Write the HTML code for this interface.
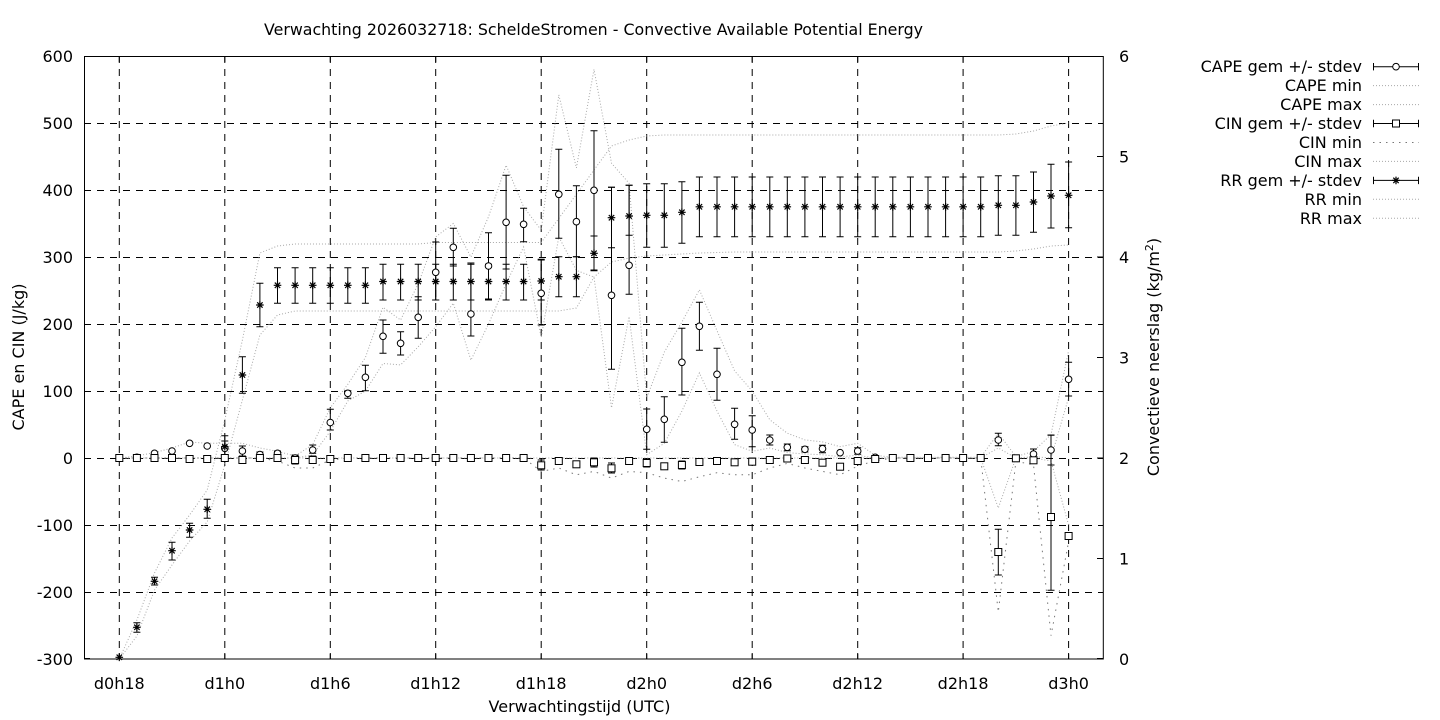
<!DOCTYPE html>
<html><head><meta charset="utf-8"><style>html,body{margin:0;padding:0;background:#fff}svg{display:block}text{font-family:"DejaVu Sans","Liberation Sans",sans-serif;font-size:16px;fill:#000}</style></head>
<body>
<svg width="1440" height="720" viewBox="0 0 1440 720" xmlns="http://www.w3.org/2000/svg">
<defs>
<circle id="c" cx="0" cy="0" r="3.3" fill="#fff" stroke="#000" stroke-width="1"/>
<rect id="q" x="-3.5" y="-3.5" width="7" height="7" fill="#fff" stroke="#000" stroke-width="1"/>
<path id="s" d="M-3.8 0h7.6M0-3.8v7.6M-2.7-2.7l5.4 5.4M-2.7 2.7l5.4-5.4" stroke="#000" stroke-width="1.2" fill="none"/>
</defs>
<rect width="1440" height="720" fill="#fff"/>
<text x="593.5" y="35" text-anchor="middle" textLength="659" lengthAdjust="spacingAndGlyphs">Verwachting 2026032718: ScheldeStromen - Convective Available Potential Energy</text>

<!-- grid -->
<g stroke="#000" stroke-width="1" stroke-dasharray="7,6" fill="none">
<path d="M119.3 56V659M224.8 56V659M330.3 56V659M435.7 56V659M541.2 56V659M646.7 56V659M752.2 56V659M857.7 56V659M963.1 56V659M1068.6 56V659"/>
<path d="M84 123.5H1103M84 190.5H1103M84 257.5H1103M84 324.5H1103M84 391.5H1103M84 458.5H1103M84 525.5H1103M84 592.5H1103"/>
</g>
<!-- ticks -->
<g stroke="#000" stroke-width="1" fill="none">
<path d="M84 56.5h6M84 123.5h6M84 190.5h6M84 257.5h6M84 324.5h6M84 391.5h6M84 458.5h6M84 525.5h6M84 592.5h6M84 658.5h6"/>
<path d="M1103 56.5h-6M1103 156.5h-6M1103 257h-6M1103 357.5h-6M1103 458h-6M1103 558.5h-6M1103 658.5h-6"/>
<path d="M119.3 659v-6M224.8 659v-6M330.3 659v-6M435.7 659v-6M541.2 659v-6M646.7 659v-6M752.2 659v-6M857.7 659v-6M963.1 659v-6M1068.6 659v-6"/>
<path d="M119.3 56v6M224.8 56v6M330.3 56v6M435.7 56v6M541.2 56v6M646.7 56v6M752.2 56v6M857.7 56v6M963.1 56v6M1068.6 56v6"/>
</g>

<!-- tick labels -->
<g text-anchor="end">
<text x="73" y="62">600</text><text x="73" y="129">500</text><text x="73" y="196">400</text><text x="73" y="263">300</text><text x="73" y="330">200</text><text x="73" y="397">100</text><text x="73" y="464">0</text><text x="73" y="531">-100</text><text x="73" y="598">-200</text><text x="73" y="665">-300</text>
</g>
<g text-anchor="start">
<text x="1119" y="62">6</text><text x="1119" y="162.5">5</text><text x="1119" y="263">4</text><text x="1119" y="363.5">3</text><text x="1119" y="464">2</text><text x="1119" y="564.5">1</text><text x="1119" y="665">0</text>
</g>
<g text-anchor="middle">
<text x="119.3" y="689">d0h18</text><text x="224.8" y="689">d1h0</text><text x="330.3" y="689">d1h6</text><text x="435.7" y="689">d1h12</text><text x="541.2" y="689">d1h18</text><text x="646.7" y="689">d2h0</text><text x="752.2" y="689">d2h6</text><text x="857.7" y="689">d2h12</text><text x="963.1" y="689">d2h18</text><text x="1068.6" y="689">d3h0</text>
<text x="579.5" y="712">Verwachtingstijd (UTC)</text>
<text transform="translate(24,357) rotate(-90)">CAPE en CIN (J/kg)</text>
<text transform="translate(1159,357) rotate(-90)">Convectieve neerslag (kg/m<tspan dy="-6" font-size="11">2</tspan><tspan dy="6">)</tspan></text>
</g>

<!-- gray min/max lines -->
<g fill="none" stroke="#a8a8a8" stroke-width="1" stroke-dasharray="1,2">
<polyline points="119.3,458 136.9,456 154.5,452.6 172,448 189.6,442 207.2,443.3 224.8,443.3 242.4,443.3 259.9,448 277.5,451.3 295.1,456 312.7,444.6 330.3,407.8 347.8,384.3 365.4,357.5 383,307.3 400.6,320 418.2,283.8 435.7,236.9 453.3,223.5 470.9,257 488.5,216.8 506.1,165.2 523.6,206.8 541.2,230.2 558.8,94.9 576.4,167.9 594,69.4 611.5,163.2 629.1,183.3 646.7,397.7 664.3,352.1 681.9,322 699.4,289.8 717,330.7 734.6,370.9 752.2,391 769.8,419.8 787.3,433.2 804.9,439.9 822.5,441.9 840.1,446.6 857.7,443.3 875.2,455.3 892.8,457.3 910.4,457.3 928,457.3 945.6,457.3 963.1,457.3 980.7,457.3 998.3,433.2 1015.9,456.7 1033.5,451.3 1051,434.6 1068.6,350.8"/>
<polyline points="119.3,458 295.1,458 312.7,455 330.3,431.2 347.8,401 365.4,391 383,363.5 400.6,364.9 418.2,346.8 435.7,326.7 453.3,303.2 470.9,360.2 488.5,324 506.1,283.8 523.6,247 541.2,337.4 558.8,236.9 576.4,270.4 594,277.1 611.5,407.8 629.1,316.6 646.7,454.7 664.3,443.3 681.9,411.1 699.4,372.9 717,411.1 734.6,444.6 752.2,451.3 769.8,448 787.3,452.6 804.9,454 822.5,454.7 840.1,456.7 857.7,455.3 875.2,458 980.7,458 998.3,448 1015.9,458 1033.5,456.7 1051,458 1068.6,397.7"/>
<polyline points="119.3,458 980.7,458 998.3,508 1015.9,458 1033.5,458 1051,461 1068.6,525"/>
<polyline points="119.3,659 136.9,636 154.5,590 172,565 189.6,541 207.2,522 224.8,465 242.4,400 259.9,335 277.5,315 295.1,311 558.8,311 576.4,308 594,277 611.5,262 629.1,258 646.7,256 664.3,255 681.9,254 699.4,253 717,252.5 734.6,252 998.3,252 1015.9,251 1033.5,249 1051,246 1068.6,245"/>
<polyline points="119.3,659 136.9,620 154.5,573 172,538 189.6,515 207.2,490 224.8,420 242.4,340 259.9,253 277.5,246 295.1,244 418.2,244 435.7,242.5 541.2,242.5 558.8,218.4 576.4,194.3 594,170 611.5,146 629.1,140 646.7,136 664.3,135 998.3,135 1015.9,134 1033.5,131 1051,126 1068.6,123"/>
</g>
<polyline fill="none" stroke="#777" stroke-width="1" stroke-dasharray="1.5,5" points="119.3,458 259.9,458 277.5,461 295.1,468 312.7,468 330.3,460 347.8,458 523.6,458 541.2,471.4 558.8,468 576.4,474.8 594,471.4 611.5,478.1 629.1,471.4 646.7,472.7 664.3,478.1 681.9,481.5 699.4,476.8 717,472.7 734.6,474.8 752.2,474.8 769.8,468 787.3,463.4 804.9,468 822.5,471.4 840.1,474.8 857.7,466 875.2,460.7 892.8,458 980.7,458 998.3,612.1 1015.9,461.4 1033.5,464.7 1051,635.6 1068.6,541.8"/>

<!-- error bars -->
<g stroke="#000" stroke-width="1" fill="none">
<path d="M224.8 441V455m-3.5 0h7M221.3 441h7M242.4 446V456m-3.5 0h7M238.9 446h7M259.9 452V457m-3.5 0h7M256.4 452h7M277.5 451V456m-3.5 0h7M274 451h7M295.1 455V461m-3.5 0h7M291.6 455h7M312.7 445V453.3m-3.5 0h7M309.2 445h7M330.3 409.3V430m-3.5 0h7M326.8 409.3h7M347.8 390.7V398.3m-3.5 0h7M344.3 390.7h7M365.4 365.3V390.7m-3.5 0h7M361.9 365.3h7M383 320V353.3m-3.5 0h7M379.5 320h7M400.6 331.7V355m-3.5 0h7M397.1 331.7h7M418.2 296.7V338.3m-3.5 0h7M414.7 296.7h7M435.7 242V300m-3.5 0h7M432.2 242h7M453.3 228.3V266m-3.5 0h7M449.8 228.3h7M470.9 263V336m-3.5 0h7M467.4 263h7M488.5 232.7V299m-3.5 0h7M485 232.7h7M506.1 175.3V269m-3.5 0h7M502.6 175.3h7M523.6 208.3V241.7m-3.5 0h7M520.1 208.3h7M541.2 259.3V325m-3.5 0h7M537.7 259.3h7M558.8 149.3V238.3m-3.5 0h7M555.3 149.3h7M576.4 185.7V256.7m-3.5 0h7M572.9 185.7h7M594 130.7V270m-3.5 0h7M590.5 130.7h7M611.5 187.3V369.3m-3.5 0h7M608 187.3h7M629.1 185.3V294.3m-3.5 0h7M625.6 185.3h7M646.7 409V449.3m-3.5 0h7M643.2 409h7M664.3 396.7V442.3m-3.5 0h7M660.8 396.7h7M681.9 328.3V395m-3.5 0h7M678.4 328.3h7M699.4 302.3V350.3m-3.5 0h7M695.9 302.3h7M717 348.3V400.3m-3.5 0h7M713.5 348.3h7M734.6 408.3V439.3m-3.5 0h7M731.1 408.3h7M752.2 415.7V446.7m-3.5 0h7M748.7 415.7h7M769.8 435V445m-3.5 0h7M766.3 435h7M787.3 444V450.7m-3.5 0h7M783.8 444h7M804.9 446.7V452m-3.5 0h7M801.4 446.7h7M822.5 445.3V452.7m-3.5 0h7M819 445.3h7M857.7 447.7V454.3m-3.5 0h7M854.2 447.7h7M998.3 433.3V445.7m-3.5 0h7M994.8 433.3h7M1033.5 449V458m-3.5 0h7M1030 449h7M1051 435V465m-3.5 0h7M1047.5 435h7M1068.6 362.3V396m-3.5 0h7M1065.1 362.3h7"/>
<path d="M295.1 456V464m-3.5 0h7M291.6 456h7M312.7 456V463m-3.5 0h7M309.2 456h7M541.2 460V470m-3.5 0h7M537.7 460h7M594 458V467m-3.5 0h7M590.5 458h7M611.5 463V473m-3.5 0h7M608 463h7M646.7 459V467m-3.5 0h7M643.2 459h7M681.9 461V469m-3.5 0h7M678.4 461h7M699.4 459V465m-3.5 0h7M695.9 459h7M734.6 459V465m-3.5 0h7M731.1 459h7M752.2 458V465m-3.5 0h7M748.7 458h7M998.3 529.3V575m-3.5 0h7M994.8 529.3h7M1051 435.3V590.3m-3.5 0h7M1047.5 435.3h7M1068.6 533V539m-3.5 0h7M1065.1 533h7"/>
<path d="M136.9 622.7V632.3m-3.5 0h7M133.4 622.7h7M154.5 577.3V585m-3.5 0h7M151 577.3h7M172 542.3V560m-3.5 0h7M168.5 542.3h7M189.6 523.3V537.3m-3.5 0h7M186.1 523.3h7M207.2 499.3V518.3m-3.5 0h7M203.7 499.3h7M224.8 435.7V458m-3.5 0h7M221.3 435.7h7M242.4 356.7V393.3m-3.5 0h7M238.9 356.7h7M259.9 283.3V326.7m-3.5 0h7M256.4 283.3h7
M277.5 267.7V303.3m-3.5 0h7M274 267.7h7M295.1 267.7V303.3m-3.5 0h7M291.6 267.7h7M312.7 267.7V303.3m-3.5 0h7M309.2 267.7h7M330.3 267.7V303.3m-3.5 0h7M326.8 267.7h7M347.8 267.7V303.3m-3.5 0h7M344.3 267.7h7M365.4 267.7V303.3m-3.5 0h7M361.9 267.7h7
M383 264.3V300m-3.5 0h7M379.5 264.3h7M400.6 264.3V300m-3.5 0h7M397.1 264.3h7M418.2 264.3V300m-3.5 0h7M414.7 264.3h7M435.7 264.3V300m-3.5 0h7M432.2 264.3h7M453.3 264.3V300m-3.5 0h7M449.8 264.3h7M470.9 264.3V300m-3.5 0h7M467.4 264.3h7M488.5 264.3V300m-3.5 0h7M485 264.3h7M506.1 264.3V300m-3.5 0h7M502.6 264.3h7M523.6 264.3V300m-3.5 0h7M520.1 264.3h7
M541.2 260V300m-3.5 0h7M537.7 260h7M558.8 256.7V296.7m-3.5 0h7M555.3 256.7h7M576.4 256.7V296.7m-3.5 0h7M572.9 256.7h7M594 236V270.7m-3.5 0h7M590.5 236h7M611.5 187.3V247.7m-3.5 0h7M608 187.3h7M629.1 185.3V235.3m-3.5 0h7M625.6 185.3h7M646.7 183.7V247.3m-3.5 0h7M643.2 183.7h7M664.3 183.7V247.3m-3.5 0h7M660.8 183.7h7M681.9 181.7V243.3m-3.5 0h7M678.4 181.7h7
M699.4 177V236.7m-3.5 0h7M695.9 177h7M717 177V236.7m-3.5 0h7M713.5 177h7M734.6 177V236.7m-3.5 0h7M731.1 177h7M752.2 177V236.7m-3.5 0h7M748.7 177h7M769.8 177V236.7m-3.5 0h7M766.3 177h7M787.3 177V236.7m-3.5 0h7M783.8 177h7M804.9 177V236.7m-3.5 0h7M801.4 177h7M822.5 177V236.7m-3.5 0h7M819 177h7M840.1 177V236.7m-3.5 0h7M836.6 177h7M857.7 177V236.7m-3.5 0h7M854.2 177h7M875.2 177V236.7m-3.5 0h7M871.7 177h7M892.8 177V236.7m-3.5 0h7M889.3 177h7M910.4 177V236.7m-3.5 0h7M906.9 177h7M928 177V236.7m-3.5 0h7M924.5 177h7M945.6 177V236.7m-3.5 0h7M942.1 177h7M963.1 177V236.7m-3.5 0h7M959.6 177h7M980.7 177V236.7m-3.5 0h7M977.2 177h7
M998.3 175.7V235.3m-3.5 0h7M994.8 175.7h7M1015.9 175.7V235.3m-3.5 0h7M1012.4 175.7h7M1033.5 172V232.3m-3.5 0h7M1030 172h7M1051 164.3V228m-3.5 0h7M1047.5 164.3h7M1068.6 162V227.7m-3.5 0h7M1065.1 162h7"/>
</g>

<!-- CAPE circles -->
<g>
<use href="#c" x="136.9" y="457.3"/><use href="#c" x="154.5" y="453.3"/><use href="#c" x="172" y="451"/><use href="#c" x="189.6" y="443.3"/><use href="#c" x="207.2" y="446"/><use href="#c" x="224.8" y="448.3"/><use href="#c" x="242.4" y="451"/><use href="#c" x="259.9" y="454.5"/><use href="#c" x="277.5" y="453.3"/><use href="#c" x="295.1" y="458"/><use href="#c" x="312.7" y="450"/><use href="#c" x="330.3" y="422.5"/><use href="#c" x="347.8" y="393.3"/><use href="#c" x="365.4" y="377.3"/><use href="#c" x="383" y="336.3"/><use href="#c" x="400.6" y="343.3"/><use href="#c" x="418.2" y="317.3"/><use href="#c" x="435.7" y="272.3"/><use href="#c" x="453.3" y="247.3"/><use href="#c" x="470.9" y="314"/><use href="#c" x="488.5" y="266"/><use href="#c" x="506.1" y="222.3"/><use href="#c" x="523.6" y="224.3"/><use href="#c" x="541.2" y="293.3"/><use href="#c" x="558.8" y="194.3"/><use href="#c" x="576.4" y="221.7"/><use href="#c" x="594" y="190.3"/><use href="#c" x="611.5" y="295.3"/><use href="#c" x="629.1" y="265.3"/><use href="#c" x="646.7" y="429.3"/><use href="#c" x="664.3" y="419.3"/><use href="#c" x="681.9" y="362.3"/><use href="#c" x="699.4" y="326.3"/><use href="#c" x="717" y="374.3"/><use href="#c" x="734.6" y="424.3"/><use href="#c" x="752.2" y="430"/><use href="#c" x="769.8" y="440"/><use href="#c" x="787.3" y="447.3"/><use href="#c" x="804.9" y="449.3"/><use href="#c" x="822.5" y="448.7"/><use href="#c" x="840.1" y="452.7"/><use href="#c" x="857.7" y="451"/><use href="#c" x="875.2" y="457.3"/><use href="#c" x="998.3" y="440"/><use href="#c" x="1033.5" y="454"/><use href="#c" x="1051" y="450"/><use href="#c" x="1068.6" y="379.3"/>
</g>
<!-- CIN squares -->
<g>
<use href="#q" x="119.3" y="458"/><use href="#q" x="136.9" y="458"/><use href="#q" x="154.5" y="458"/><use href="#q" x="172" y="458"/><use href="#q" x="189.6" y="459"/><use href="#q" x="207.2" y="459"/><use href="#q" x="224.8" y="458"/><use href="#q" x="242.4" y="460"/><use href="#q" x="259.9" y="458"/><use href="#q" x="277.5" y="458"/><use href="#q" x="295.1" y="460"/><use href="#q" x="312.7" y="460"/><use href="#q" x="330.3" y="459"/><use href="#q" x="347.8" y="458"/><use href="#q" x="365.4" y="458"/><use href="#q" x="383" y="458"/><use href="#q" x="400.6" y="458"/><use href="#q" x="418.2" y="458"/><use href="#q" x="435.7" y="458"/><use href="#q" x="453.3" y="458"/><use href="#q" x="470.9" y="458"/><use href="#q" x="488.5" y="458"/><use href="#q" x="506.1" y="458"/><use href="#q" x="523.6" y="458"/><use href="#q" x="541.2" y="465.3"/><use href="#q" x="558.8" y="461"/><use href="#q" x="576.4" y="464.3"/><use href="#q" x="594" y="462.3"/><use href="#q" x="611.5" y="468.3"/><use href="#q" x="629.1" y="461"/><use href="#q" x="646.7" y="463"/><use href="#q" x="664.3" y="466.3"/><use href="#q" x="681.9" y="465"/><use href="#q" x="699.4" y="462"/><use href="#q" x="717" y="461"/><use href="#q" x="734.6" y="462.3"/><use href="#q" x="752.2" y="461.7"/><use href="#q" x="769.8" y="460"/><use href="#q" x="787.3" y="458.5"/><use href="#q" x="804.9" y="460"/><use href="#q" x="822.5" y="462.7"/><use href="#q" x="840.1" y="466.7"/><use href="#q" x="857.7" y="461"/><use href="#q" x="875.2" y="459"/><use href="#q" x="892.8" y="458"/><use href="#q" x="910.4" y="458"/><use href="#q" x="928" y="458"/><use href="#q" x="945.6" y="458"/><use href="#q" x="963.1" y="458"/><use href="#q" x="980.7" y="458"/><use href="#q" x="998.3" y="552"/><use href="#q" x="1015.9" y="458.3"/><use href="#q" x="1033.5" y="460.3"/><use href="#q" x="1051" y="517"/><use href="#q" x="1068.6" y="536"/>
</g>
<!-- RR stars -->
<g>
<use href="#s" x="119.3" y="657.3"/><use href="#s" x="136.9" y="627.3"/><use href="#s" x="154.5" y="581.3"/><use href="#s" x="172" y="550.7"/><use href="#s" x="189.6" y="530"/><use href="#s" x="207.2" y="509.3"/><use href="#s" x="224.8" y="446.7"/><use href="#s" x="242.4" y="375"/><use href="#s" x="259.9" y="305"/><use href="#s" x="277.5" y="285.3"/><use href="#s" x="295.1" y="285.3"/><use href="#s" x="312.7" y="285.3"/><use href="#s" x="330.3" y="285.3"/><use href="#s" x="347.8" y="285.3"/><use href="#s" x="365.4" y="285.3"/><use href="#s" x="383" y="281.5"/><use href="#s" x="400.6" y="281.5"/><use href="#s" x="418.2" y="281.5"/><use href="#s" x="435.7" y="281.5"/><use href="#s" x="453.3" y="281.5"/><use href="#s" x="470.9" y="281.5"/><use href="#s" x="488.5" y="281.5"/><use href="#s" x="506.1" y="281.5"/><use href="#s" x="523.6" y="281.5"/><use href="#s" x="541.2" y="281"/><use href="#s" x="558.8" y="276.7"/><use href="#s" x="576.4" y="276.7"/><use href="#s" x="594" y="253.3"/><use href="#s" x="611.5" y="217.7"/><use href="#s" x="629.1" y="216"/><use href="#s" x="646.7" y="215.3"/><use href="#s" x="664.3" y="215.3"/><use href="#s" x="681.9" y="212.3"/><use href="#s" x="699.4" y="206.8"/><use href="#s" x="717" y="206.8"/><use href="#s" x="734.6" y="206.8"/><use href="#s" x="752.2" y="206.8"/><use href="#s" x="769.8" y="206.8"/><use href="#s" x="787.3" y="206.8"/><use href="#s" x="804.9" y="206.8"/><use href="#s" x="822.5" y="206.8"/><use href="#s" x="840.1" y="206.8"/><use href="#s" x="857.7" y="206.8"/><use href="#s" x="875.2" y="206.8"/><use href="#s" x="892.8" y="206.8"/><use href="#s" x="910.4" y="206.8"/><use href="#s" x="928" y="206.8"/><use href="#s" x="945.6" y="206.8"/><use href="#s" x="963.1" y="206.8"/><use href="#s" x="980.7" y="206.8"/><use href="#s" x="998.3" y="205.3"/><use href="#s" x="1015.9" y="205.3"/><use href="#s" x="1033.5" y="202"/><use href="#s" x="1051" y="196"/><use href="#s" x="1068.6" y="195.3"/>
</g>

<!-- border -->
<rect x="84.5" y="56.5" width="1018.8" height="602.5" fill="none" stroke="#000" stroke-width="1"/>

<!-- legend -->
<g text-anchor="end">
<text x="1362" y="72.2">CAPE gem +/- stdev</text>
<text x="1362" y="91.1">CAPE min</text>
<text x="1362" y="110.1">CAPE max</text>
<text x="1362" y="129">CIN gem +/- stdev</text>
<text x="1362" y="148">CIN min</text>
<text x="1362" y="166.9">CIN max</text>
<text x="1362" y="185.9">RR gem +/- stdev</text>
<text x="1362" y="204.8">RR min</text>
<text x="1362" y="223.8">RR max</text>
</g>
<g stroke="#000" stroke-width="1" fill="none">
<path d="M1373 66.7H1419M1373.5 63v7.4M1418.5 63v7.4"/>
<path d="M1373 123.5H1419M1373.5 119.8v7.4M1418.5 119.8v7.4"/>
<path d="M1373 180.4H1419M1373.5 176.7v7.4M1418.5 176.7v7.4"/>
</g>
<use href="#c" x="1396" y="66.7"/>
<use href="#q" x="1396" y="123.5"/>
<use href="#s" x="1396" y="180.4"/>
<g stroke="#a8a8a8" stroke-width="1" stroke-dasharray="1,2" fill="none">
<path d="M1373 85.6H1419M1373 104.6H1419M1373 161.4H1419M1373 199.3H1419M1373 218.3H1419"/>
</g>
<path d="M1373 142.5H1419" stroke="#777" stroke-width="1" stroke-dasharray="1.5,5" fill="none"/>
</svg>
</body></html>
